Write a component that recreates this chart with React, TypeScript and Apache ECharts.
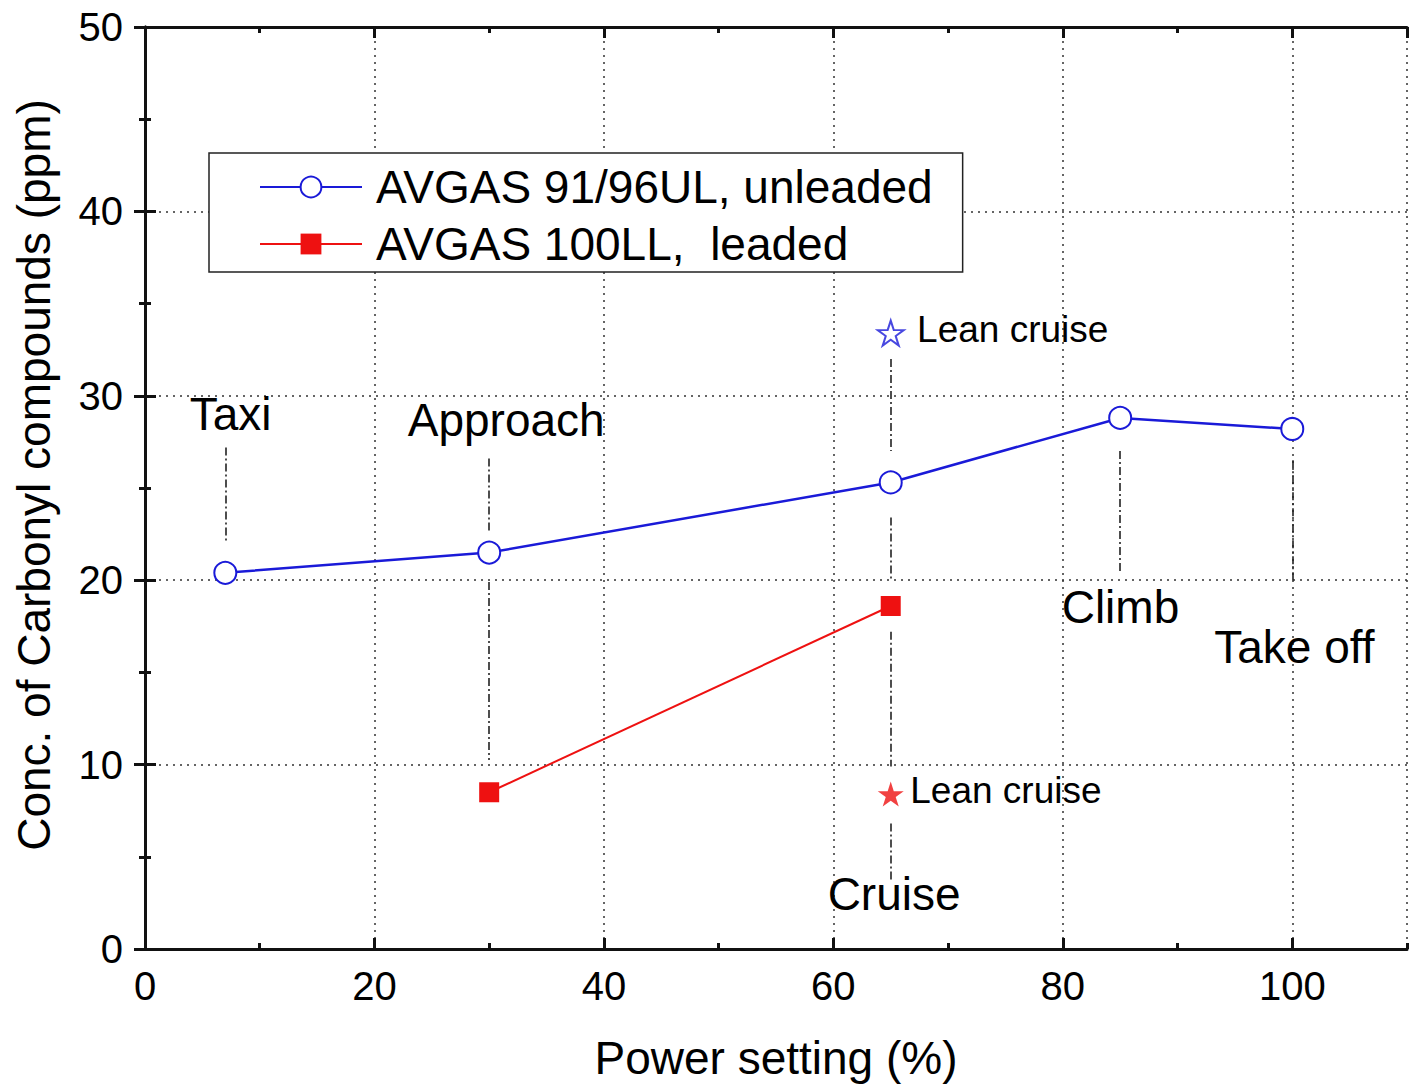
import React, { useEffect, useRef } from "react";
import * as echarts from "echarts";

// Power setting (%) and carbonyl concentration (ppm) per fuel
const powerUnleaded = [7, 30, 65, 85, 100];
const concUnleaded = [20.4, 21.5, 25.3, 28.8, 28.2];
const powerLeaded = [30, 65];
const concLeaded = [8.5, 18.6];
// Lean cruise single points [power, conc]
const leanCruiseUnleaded = [65, 33.4];
const leanCruiseLeaded = [65, 8.4];

const seriesNames = ["AVGAS 91/96UL, unleaded", "AVGAS 100LL,  leaded"];

// Dash-dot guide segments marking each flight phase: [power, yFrom, yTo]
const phaseGuides = [
  [7, 27.2, 22.1],
  [30, 26.6, 22.6],
  [30, 19.9, 10.25],
  [65, 32.0, 27.0],
  [65, 23.4, 20.0],
  [65, 17.2, 9.9],
  [65, 6.8, 3.7],
  [85, 27.0, 20.4],
  [100, 26.5, 20.0],
];

// Phase and lean-cruise annotations: [text, power, conc, fontSize]
const annotations: [string, number, number, number][] = [
  ["Taxi", 3.9, 29.0, 46],
  ["Approach", 22.9, 28.7, 46],
  ["Climb", 79.9, 18.55, 46],
  ["Take off", 93.2, 16.4, 46],
  ["Cruise", 59.5, 3.0, 46],
  ["Lean cruise", 67.3, 33.6, 37],
  ["Lean cruise", 66.7, 8.6, 37],
];

const FONT = '"Liberation Sans", Arial, Helvetica, sans-serif';
const BLUE = "#1a1ad8";
const RED = "#ee1111";
const INK = "#111";
const STAR =
  "path://M50,0 L61.2,34.5 L97.6,34.5 L68.2,55.9 L79.4,90.5 L50,69.1 L20.6,90.5 L31.8,55.9 L2.4,34.5 L38.8,34.5 Z";

function xAxisDef(position: "bottom" | "top", interval: number, major: boolean, extra: any = {}) {
  return {
    type: "value",
    position,
    min: 0,
    max: 110,
    interval,
    axisLine: { show: major, lineStyle: { color: INK, width: 3 } },
    axisTick: {
      show: true,
      inside: true,
      length: major ? 11 : 6,
      lineStyle: { color: INK, width: 3 },
    },
    axisLabel: { show: false },
    splitLine: { show: false },
    ...extra,
  };
}

export default function App() {
  const ref = useRef<HTMLDivElement>(null);

  useEffect(() => {
    if (!ref.current) return;
    const chart = echarts.init(ref.current, undefined, { renderer: "svg" });

    const yCommon = {
      type: "value",
      min: 0,
      max: 50,
      interval: 10,
      axisLine: { show: true, lineStyle: { color: INK, width: 3 } },
      axisTick: { show: true, inside: true, length: 11, lineStyle: { color: INK, width: 3 } },
      minorTick: { show: true, splitNumber: 2, length: 6, lineStyle: { color: INK, width: 3 } },
    };

    chart.setOption({
      animation: false,
      backgroundColor: "#fff",
      grid: { left: 145, right: 2, top: 27, bottom: 137, containLabel: false },
      legend: {
        orient: "vertical",
        left: 209,
        top: 153,
        itemWidth: 102,
        itemHeight: 26,
        itemGap: 11,
        padding: [11, 30, 5, 50],
        borderColor: "#222",
        borderWidth: 1.5,
        backgroundColor: "#fff",
        textStyle: { fontSize: 46, fontFamily: FONT, color: "#000", padding: [0, 0, 0, 9] },
        data: seriesNames,
      },
      xAxis: [
        xAxisDef("bottom", 20, true, {
          name: "Power setting (%)",
          nameLocation: "middle",
          nameGap: 86,
          nameTextStyle: { fontSize: 46, fontFamily: FONT, color: "#000" },
          axisLabel: {
            show: true,
            fontSize: 40,
            fontFamily: FONT,
            color: "#000",
            margin: 17,
            showMaxLabel: false,
          },
          splitLine: {
            show: true,
            lineStyle: { color: "#333", width: 1.5, type: [2, 5] },
          },
        }),
        xAxisDef("bottom", 10, false),
        xAxisDef("top", 20, true),
        xAxisDef("top", 10, false),
      ],
      yAxis: [
        {
          ...yCommon,
          position: "left",
          name: "Conc. of Carbonyl compounds (ppm)",
          nameLocation: "middle",
          nameGap: 88,
          nameTextStyle: {
            fontSize: 46,
            fontFamily: FONT,
            color: "#000",
            padding: [0, 0, 0, 26],
          },
          axisLabel: { show: true, fontSize: 40, fontFamily: FONT, color: "#000", margin: 22 },
          splitLine: {
            show: true,
            lineStyle: { color: "#333", width: 1.5, type: [2, 5] },
          },
        },
        {
          ...yCommon,
          position: "right",
          axisLabel: { show: false },
          splitLine: { show: false },
        },
      ],
      series: [
        {
          type: "lines",
          coordinateSystem: "cartesian2d",
          silent: true,
          z: 1,
          lineStyle: { color: "#222", width: 1.6, type: [8, 3, 2, 3], opacity: 1 },
          data: phaseGuides.map(([x, y1, y2]) => ({ coords: [[x, y1], [x, y2]] })),
        },
        {
          name: seriesNames[0],
          type: "line",
          z: 3,
          data: powerUnleaded.map((p, i) => [p, concUnleaded[i]]),
          symbol: "circle",
          symbolSize: 22,
          lineStyle: { color: BLUE, width: 2.5 },
          itemStyle: { color: "#fff", borderColor: BLUE, borderWidth: 2 },
        },
        {
          name: seriesNames[1],
          type: "line",
          z: 3,
          data: powerLeaded.map((p, i) => [p, concLeaded[i]]),
          symbol: "rect",
          symbolSize: 20,
          lineStyle: { color: RED, width: 2 },
          itemStyle: { color: RED, borderColor: RED, borderWidth: 0 },
        },
        {
          type: "scatter",
          z: 3,
          symbol: STAR,
          symbolSize: [26, 25],
          itemStyle: { color: "#fff", borderColor: BLUE, borderWidth: 2 },
          data: [leanCruiseUnleaded],
        },
        {
          type: "scatter",
          z: 3,
          symbol: STAR,
          symbolSize: [26, 25],
          itemStyle: { color: RED, borderColor: RED, borderWidth: 0 },
          data: [leanCruiseLeaded],
        },
      ],
    });

    // Place the phase annotations at their data positions
    chart.setOption({
      graphic: annotations.map(([text, x, y, size]) => {
        const [px, py] = chart.convertToPixel({ xAxisIndex: 0, yAxisIndex: 0 }, [x, y]);
        return {
          type: "text",
          x: px,
          y: py,
          z: 10,
          style: {
            text,
            fontSize: size,
            fontFamily: FONT,
            fill: "#000",
            textAlign: "left",
            textVerticalAlign: "middle",
          },
        };
      }),
    });

    return () => chart.dispose();
  }, []);

  return (
    <div
      ref={ref}
      style={{ position: "fixed", left: 0, top: 0, width: 1409, height: 1086, background: "#fff" }}
    />
  );
}
